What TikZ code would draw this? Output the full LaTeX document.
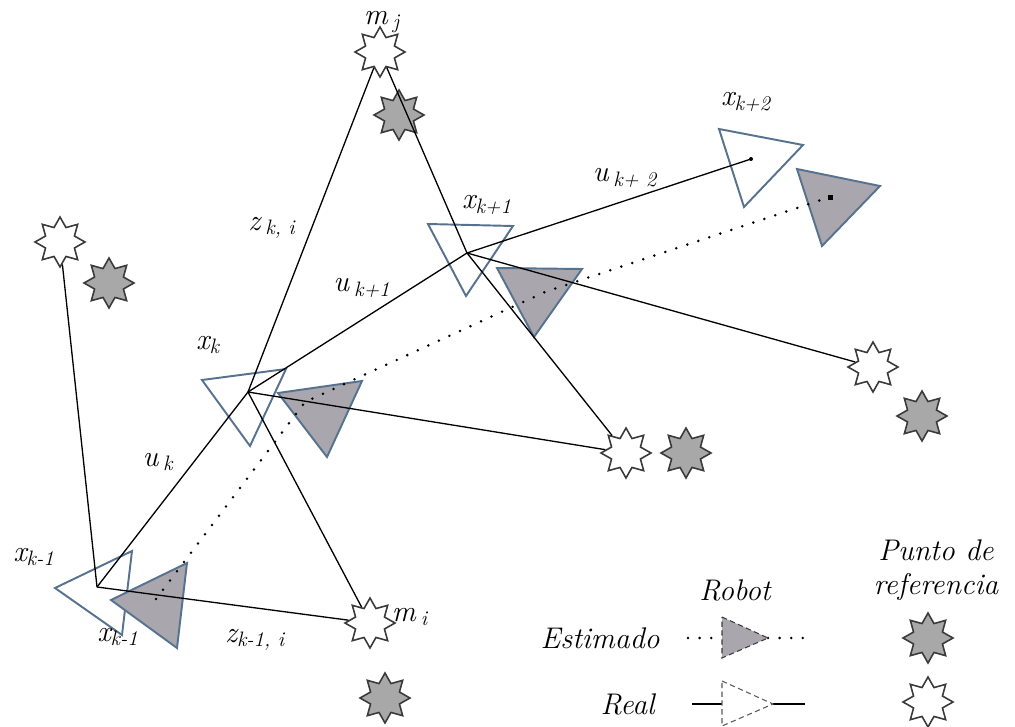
\documentclass[tikz,border=0pt]{standalone}
\usepackage{fontspec}
\usepackage{xcolor}
\usetikzlibrary{shapes.geometric}
\definecolor{bot-blue}{HTML}{56728F}
\definecolor{bot-gray}{HTML}{A9A7AD}
\definecolor{lm-gray}{HTML}{A8A8A8}
\definecolor{lm-edge}{HTML}{3A3A3A}

\begin{document}
\begin{tikzpicture}[x=0.02cm, y=-0.02cm,
    lmreal/.style={star, star points=8, star point ratio=1.6, minimum size=1.0cm,
                   inner sep=0pt, draw=lm-edge, line width=0.9pt, fill=white},
    lmest/.style={lmreal, fill=lm-gray},
    realbot/.style={draw=bot-blue, line width=1.1pt, fill=white},
    estbot/.style={realbot, fill=bot-gray},
    link/.style={black, line width=0.75pt},
    estline/.style={black, line width=1.6pt, line cap=round, dash pattern=on 0pt off 6.6pt},
    lbl/.style={font=\itshape\fontsize{17}{17}\selectfont, inner sep=0pt},
    leg/.style={font=\itshape\fontsize{17}{19}\selectfont, inner sep=0pt, align=center},
  ]
    \useasboundingbox (0,0) rectangle (1015,727);

    % Robots (real and estimated)
    \draw[realbot] (55,588) -- (132,551) -- (122,635) -- cycle;
    \draw[estbot]  (111,600) -- (187,563) -- (177,648) -- cycle;
    \draw[realbot] (202,380) -- (286,369) -- (250,446) -- cycle;
    \draw[estbot]  (278,393) -- (362,381) -- (327,457) -- cycle;
    \draw[realbot] (428,224) -- (513,226) -- (466,296) -- cycle;
    \draw[estbot]  (497,268) -- (582,269) -- (534,337) -- cycle;
    \draw[realbot] (719,129) -- (803,145) -- (744,207) -- cycle;
    \draw[estbot]  (797,169) -- (880,186) -- (822,246) -- cycle;

    \coordinate (xkm1) at (97,587);
    \coordinate (xk)   at (248,392);
    \coordinate (xkp1) at (467,253);
    \coordinate (xkp2) at (751,159);
    \coordinate (ekm1) at (156,599);
    \coordinate (ek)   at (305,402);
    \coordinate (ekp1) at (545,292);
    \coordinate (ekp2) at (830,197);

    % Landmarks
    \node[lmreal] (mj) at (380,52) {};
    \node[lmest]  (mj-e) at (399,115) {};
    \node[lmreal] (ml) at (60,242) {};
    \node[lmest]  (ml-e) at (109,283) {};
    \node[lmreal] (mi) at (370,623) {};
    \node[lmest]  (mi-e) at (385,698) {};
    \node[lmreal] (mr) at (626,453) {};
    \node[lmest]  (mr-e) at (686,453) {};
    \node[lmreal] (mf) at (873,367) {};
    \node[lmest]  (mf-e) at (922,416) {};

    % Motion and observations
    \draw[link] (xkm1) -- (ml);
    \draw[link] (xkm1) -- (xk);
    \draw[link] (xkm1) -- (mi);
    \draw[link] (xk) -- (mj);
    \draw[link] (xk) -- (mi);
    \draw[link] (xk) -- (xkp1);
    \draw[link] (xk) -- (mr);
    \draw[link] (xkp1) -- (mj);
    \draw[link] (xkp1) -- (xkp2);
    \draw[link] (xkp1) -- (mf);
    \draw[link] (xkp1) -- (mr);

    % Estimated path
    \draw[estline] (ekm1) -- (ek) -- (ekp1) -- (ekp2);
    \fill (ekp2) ++(-2.5,-2.5) rectangle ++(5,5);
    \fill (xkp2) circle (2);

    % Labels
    \node[lbl] (l-mj)   at (382,22)  {m\,\textsubscript{j}};
    \node[lbl] (l-xkp2) at (746,102) {x\textsubscript{k+2}};
    \node[lbl] (l-ukp2) at (625,178) {u\,\textsubscript{k+ 2}};
    \node[lbl] (l-xkp1) at (487,205) {x\textsubscript{k+1}};
    \node[lbl] (l-zk)   at (272,228) {z\,\textsubscript{k, i}};
    \node[lbl] (l-ukp1) at (362,288) {u\,\textsubscript{k+1}};
    \node[lbl] (l-xk)   at (208,345) {x\textsubscript{k}};
    \node[lbl] (l-uk)   at (158,462) {u\,\textsubscript{k}};
    \node[lbl] (l-xkm1) at (34,557)  {x\textsubscript{k-1}};
    \node[lbl] (l-ekm1) at (118,637) {x\textsubscript{k-1}};
    \node[lbl] (l-zkm1) at (255,640) {z\textsubscript{k-1, i}};
    \node[lbl] (l-mi)   at (410,617) {m\,\textsubscript{i}};

    % Legend
    \node[leg] (robot) at (735,590) {Robot};
    \node[leg] (punto) at (936,570) {Punto de\\referencia};
    \node[leg, anchor=east] (estimado) at (660,638) {Estimado};
    \node[leg, anchor=east] (real) at (655,704) {Real};

    \coordinate (le-a) at (688,638);
    \coordinate (le-b) at (722,638);
    \coordinate (le-c) at (768,638);
    \coordinate (le-d) at (804,638);
    \draw[estline] (le-a) -- (le-b);
    \draw[estline] (le-c) -- (le-d);
    \draw[draw=lm-edge, line width=0.6pt, densely dashed, fill=bot-gray]
      (722,617) -- (768,638) -- (722,658) -- cycle;

    \coordinate (lr-a) at (692,704);
    \coordinate (lr-b) at (722,704);
    \coordinate (lr-c) at (773,704);
    \coordinate (lr-d) at (805,704);
    \draw[link] (lr-a) -- (lr-b);
    \draw[link] (lr-c) -- (lr-d);
    \draw[draw=gray!70!black, line width=0.6pt, densely dashed, fill=white]
      (722,681) -- (773,704) -- (722,726) -- cycle;

    \node[lmest]  (leg-est)  at (928,638) {};
    \node[lmreal] (leg-real) at (928,702) {};
  \end{tikzpicture}
\end{document}
